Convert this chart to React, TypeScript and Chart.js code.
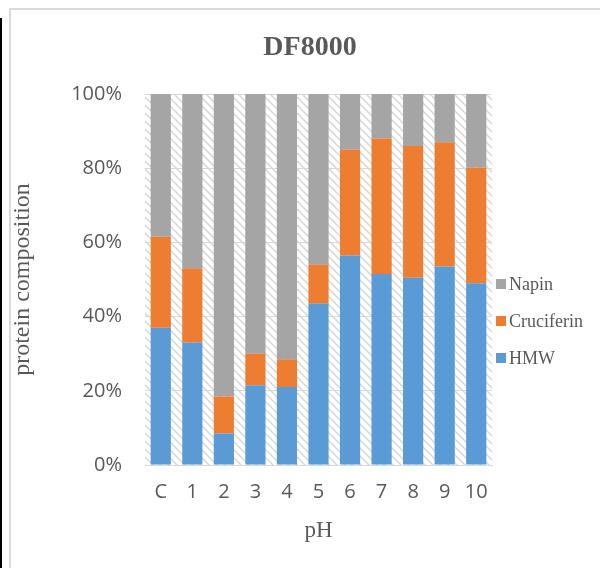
import React, { useEffect, useRef } from "react";
import { Chart, registerables } from "chart.js";

Chart.register(...registerables);

const categories = ["C", "1", "2", "3", "4", "5", "6", "7", "8", "9", "10"];
const hmw = [37, 33, 8.5, 21.5, 21, 43.5, 56.5, 51.5, 50.5, 53.5, 49];
const cruciferin = [24.5, 20, 10, 8.5, 7.5, 10.5, 28.5, 36.5, 35.5, 33.5, 31.2];
const napin = [38.5, 47, 81.5, 70, 71.5, 46, 15, 12, 14, 13, 19.8];
const yTicks = [0, 20, 40, 60, 80, 100];

const TEXT = "#595959";
const GRID = "#d9d9d9";
const SERIF = '"Liberation Serif", "Times New Roman", serif';
const SANS = '"Open Sans", "Liberation Sans", sans-serif';

const legendItems = [
  { label: "Napin", color: "#A5A5A5" },
  { label: "Cruciferin", color: "#ED7D31" },
  { label: "HMW", color: "#5B9BD5" },
];

export default function App() {
  const ref = useRef<HTMLCanvasElement | null>(null);

  useEffect(() => {
    const canvas = ref.current;
    if (!canvas) return;
    const pc = document.createElement("canvas");
    pc.width = 8;
    pc.height = 8;
    const pctx = pc.getContext("2d")!;
    pctx.fillStyle = "#ffffff";
    pctx.fillRect(0, 0, 8, 8);
    pctx.strokeStyle = "#dadada";
    pctx.lineWidth = 1.6;
    for (const c of [-8, 0, 8]) {
      pctx.beginPath();
      pctx.moveTo(-2, -2 + c);
      pctx.lineTo(10, 10 + c);
      pctx.stroke();
    }
    const pattern = pctx.createPattern(pc, "repeat");

    const hatchPlugin = {
      id: "hatch",
      beforeDraw(chart: any) {
        const { ctx, chartArea } = chart;
        if (!chartArea || !pattern) return;
        ctx.save();
        ctx.fillStyle = pattern;
        ctx.fillRect(
          chartArea.left,
          chartArea.top,
          chartArea.right - chartArea.left,
          chartArea.bottom - chartArea.top
        );
        ctx.restore();
      },
    };

    const chart = new Chart(canvas, {
      type: "bar",
      data: {
        labels: categories,
        datasets: [
          { label: "HMW", data: hmw, backgroundColor: "#5B9BD5" },
          { label: "Cruciferin", data: cruciferin, backgroundColor: "#ED7D31" },
          { label: "Napin", data: napin, backgroundColor: "#A5A5A5" },
        ],
      },
      options: {
        responsive: false,
        animation: false,
        layout: { padding: { top: 94, right: 108, left: 0, bottom: 0 } },
        datasets: {
          bar: { barPercentage: 0.64, categoryPercentage: 1 },
        },
        plugins: {
          legend: { display: false },
          title: { display: false },
          tooltip: { enabled: false },
        },
        scales: {
          x: {
            stacked: true,
            grid: { display: false, drawTicks: false },
            border: { display: true, color: GRID, width: 1 },
            ticks: {
              color: TEXT,
              font: { family: SANS, size: 20 },
              padding: 15,
              maxRotation: 0,
            },
            title: {
              display: true,
              text: "pH",
              color: TEXT,
              font: { family: SERIF, size: 23 },
              padding: { top: 0, bottom: 23 },
            },
            afterFit(scale: any) {
              scale.height = 103;
            },
          },
          y: {
            stacked: true,
            min: 0,
            max: 100,
            afterBuildTicks(scale: any) {
              scale.ticks = yTicks.map((v) => ({ value: v }));
            },
            grid: { color: GRID, lineWidth: 1, drawTicks: false },
            border: { display: false },
            ticks: {
              color: TEXT,
              font: { family: SANS, size: 20 },
              padding: 23,
              callback: (v: any) => v + "%",
            },
            title: {
              display: true,
              text: "protein composition",
              color: TEXT,
              font: { family: SERIF, size: 24 },
              padding: { top: 8, bottom: 0 },
            },
            afterFit(scale: any) {
              scale.width = 145;
            },
          },
        },
      },
      plugins: [hatchPlugin],
    } as any);
    return () => chart.destroy();
  }, []);

  return (
    <div
      style={{
        position: "fixed",
        left: 0,
        top: 0,
        width: 600,
        height: 568,
        background: "#ffffff",
        overflow: "hidden",
      }}
    >
      <div
        style={{
          position: "absolute",
          left: 0,
          top: 18,
          width: 2,
          height: 560,
          background: "#000000",
        }}
      />
      <div
        style={{
          position: "absolute",
          left: 9,
          top: 8,
          width: 620,
          height: 600,
          borderLeft: `2px solid ${GRID}`,
          borderTop: `2px solid ${GRID}`,
        }}
      />
      <canvas
        ref={ref}
        width={600}
        height={568}
        style={{ position: "absolute", left: 0, top: 0, display: "block" }}
      />
      <div
        style={{
          position: "absolute",
          left: 210,
          width: 200,
          top: 31,
          textAlign: "center",
          fontFamily: SERIF,
          fontWeight: "bold",
          fontSize: 28,
          lineHeight: "30px",
          color: TEXT,
        }}
      >
        DF8000
      </div>
      {legendItems.map((it, i) => (
        <div
          key={it.label}
          style={{
            position: "absolute",
            left: 496,
            top: 284 + i * 37 - 11,
            height: 22,
            display: "flex",
            alignItems: "center",
            fontFamily: SERIF,
            fontSize: 18,
            color: TEXT,
            whiteSpace: "nowrap",
          }}
        >
          <span
            style={{
              display: "inline-block",
              width: 10,
              height: 10,
              background: it.color,
              marginRight: 3,
            }}
          />
          {it.label}
        </div>
      ))}
    </div>
  );
}
